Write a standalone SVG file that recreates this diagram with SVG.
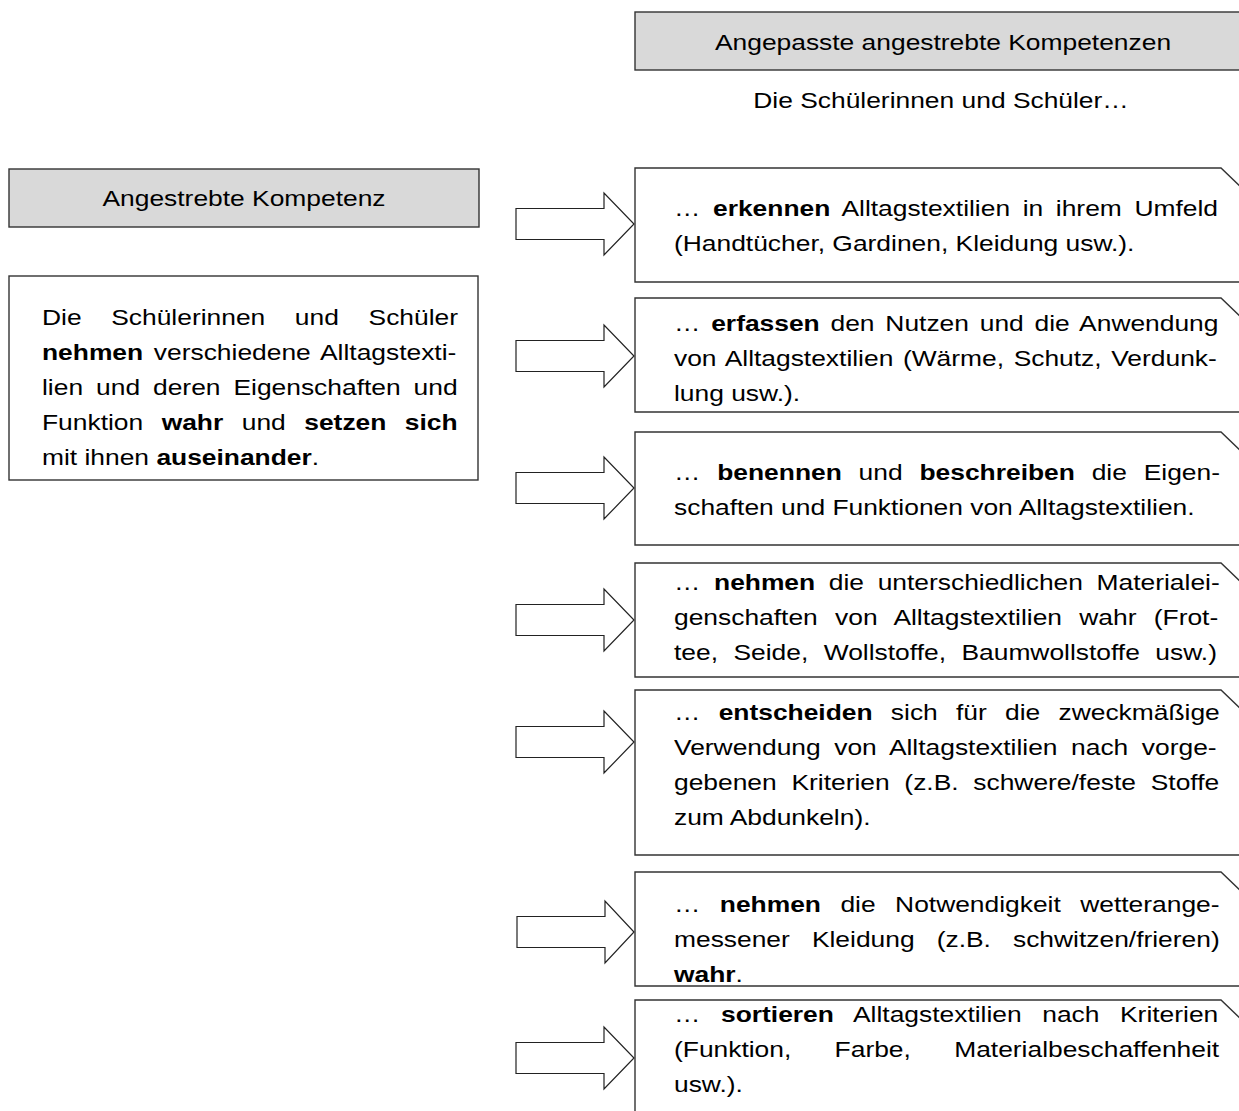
<svg xmlns="http://www.w3.org/2000/svg" width="1239" height="1111" viewBox="0 0 1239 1111">
<defs>
<style>
.t{font-family:"Liberation Sans",Arial,Helvetica,sans-serif;font-size:22px;fill:#000}
.b{font-weight:bold}
.hdr{fill:#d9d9d9;stroke:#333;stroke-width:1.4}
.box{fill:#fff;stroke:#333;stroke-width:1.4}
.arr{fill:#fff;stroke:#222;stroke-width:1.2;stroke-linejoin:miter}
</style>
</defs>
<rect width="1239" height="1111" fill="#fff"/>

<g id="header-right">
<rect class="hdr" x="635" y="12" width="700" height="58"/>
<text class="t" text-anchor="middle" transform="matrix(1.2 0 0 1 943 50)">Angepasste angestrebte Kompetenzen</text>
</g>
<g id="subtitle">
<text class="t" text-anchor="middle" transform="matrix(1.2 0 0 1 941 108)">Die Schülerinnen und Schüler…</text>
</g>

<g id="header-left">
<rect class="hdr" x="9" y="169" width="470" height="58"/>
<text class="t" text-anchor="middle" transform="matrix(1.2 0 0 1 244 206)">Angestrebte Kompetenz</text>
</g>

<g id="box-left">
<rect class="box" x="9" y="276" width="469" height="204"/>
<text class="t" transform="matrix(1.2 0 0 1 42 325)" word-spacing="18.6">Die Schülerinnen und Schüler</text>
<text class="t" transform="matrix(1.2 0 0 1 42 360)" word-spacing="2.8"><tspan class="b">nehmen</tspan> verschiedene Alltagstexti-</text>
<text class="t" transform="matrix(1.2 0 0 1 42 395)" word-spacing="4.7">lien und deren Eigenschaften und</text>
<text class="t" transform="matrix(1.2 0 0 1 42 430)" word-spacing="9.3">Funktion <tspan class="b">wahr</tspan> und <tspan class="b">setzen sich</tspan></text>
<text class="t" transform="matrix(1.2 0 0 1 42 465)">mit ihnen <tspan class="b">auseinander</tspan>.</text>
</g>

<g id="connectors">
<polygon class="arr" points="516,208.5 604,208.5 604,193 634,224 604,255 604,239.5 516,239.5"/>
<polygon class="arr" points="516,340.5 604,340.5 604,325 634,356 604,387 604,371.5 516,371.5"/>
<polygon class="arr" points="516,472.5 604,472.5 604,457 634,488 604,519 604,503.5 516,503.5"/>
<polygon class="arr" points="516,604.5 604,604.5 604,589 634,620 604,651 604,635.5 516,635.5"/>
<polygon class="arr" points="516,726.5 604,726.5 604,711 634,742 604,773 604,757.5 516,757.5"/>
<polygon class="arr" points="517,916.5 605,916.5 605,901 634,932 605,963 605,947.5 517,947.5"/>
<polygon class="arr" points="516,1042.5 604,1042.5 604,1027 634,1058 604,1089 604,1073.5 516,1073.5"/>
</g>

<g id="box-r1">
<path class="box" d="M1245,282 H635 V168 H1221 L1245,191"/>
<text class="t" transform="matrix(1.2 0 0 1 674 216)" word-spacing="4.4">… <tspan class="b">erkennen</tspan> Alltagstextilien in ihrem Umfeld</text>
<text class="t" transform="matrix(1.2 0 0 1 674 251)">(Handtücher, Gardinen, Kleidung usw.).</text>
</g>

<g id="box-r2">
<path class="box" d="M1245,412 H635 V298 H1221 L1245,321"/>
<text class="t" transform="matrix(1.2 0 0 1 674 331)" word-spacing="2.9">… <tspan class="b">erfassen</tspan> den Nutzen und die Anwendung</text>
<text class="t" transform="matrix(1.2 0 0 1 674 366)" word-spacing="1.9">von Alltagstextilien (Wärme, Schutz, Verdunk-</text>
<text class="t" transform="matrix(1.2 0 0 1 674 401)">lung usw.).</text>
</g>

<g id="box-r3">
<path class="box" d="M1245,545 H635 V432 H1221 L1245,455"/>
<text class="t" transform="matrix(1.2 0 0 1 674 480)" word-spacing="7.9">… <tspan class="b">benennen</tspan> und <tspan class="b">beschreiben</tspan> die Eigen-</text>
<text class="t" transform="matrix(1.2 0 0 1 674 515)">schaften und Funktionen von Alltagstextilien.</text>
</g>

<g id="box-r4">
<path class="box" d="M1245,677 H635 V563 H1221 L1245,586"/>
<text class="t" transform="matrix(1.2 0 0 1 674 590)" word-spacing="5.25">… <tspan class="b">nehmen</tspan> die unterschiedlichen Materialei-</text>
<text class="t" transform="matrix(1.2 0 0 1 674 625)" word-spacing="8.3">genschaften von Alltagstextilien wahr (Frot-</text>
<text class="t" transform="matrix(1.2 0 0 1 674 660)" word-spacing="6.8">tee, Seide, Wollstoffe, Baumwollstoffe usw.)</text>
</g>

<g id="box-r5">
<path class="box" d="M1245,855 H635 V690 H1221 L1245,713"/>
<text class="t" transform="matrix(1.2 0 0 1 674 720)" word-spacing="9.1">… <tspan class="b">entscheiden</tspan> sich für die zweckmäßige</text>
<text class="t" transform="matrix(1.2 0 0 1 674 755)" word-spacing="5.2">Verwendung von Alltagstextilien nach vorge-</text>
<text class="t" transform="matrix(1.2 0 0 1 674 790)" word-spacing="6.15">gebenen Kriterien (z.B. schwere/feste Stoffe</text>
<text class="t" transform="matrix(1.2 0 0 1 674 825)">zum Abdunkeln).</text>
</g>

<g id="box-r6">
<path class="box" d="M1245,986 H635 V872 H1221 L1245,895"/>
<text class="t" transform="matrix(1.2 0 0 1 674 912)" word-spacing="10.1">… <tspan class="b">nehmen</tspan> die Notwendigkeit wetterange-</text>
<text class="t" transform="matrix(1.2 0 0 1 674 947)" word-spacing="12.3">messener Kleidung (z.B. schwitzen/frieren)</text>
<text class="t" transform="matrix(1.2 0 0 1 674 982)"><tspan class="b">wahr</tspan>.</text>
</g>

<g id="box-r7">
<path class="box" d="M635,1120 V1000 H1221 L1245,1023"/>
<text class="t" transform="matrix(1.2 0 0 1 674 1022)" word-spacing="11.05">… <tspan class="b">sortieren</tspan> Alltagstextilien nach Kriterien</text>
<text class="t" transform="matrix(1.2 0 0 1 674 1057)" word-spacing="30">(Funktion, Farbe, Materialbeschaffenheit</text>
<text class="t" transform="matrix(1.2 0 0 1 674 1092)">usw.).</text>
</g>
</svg>
